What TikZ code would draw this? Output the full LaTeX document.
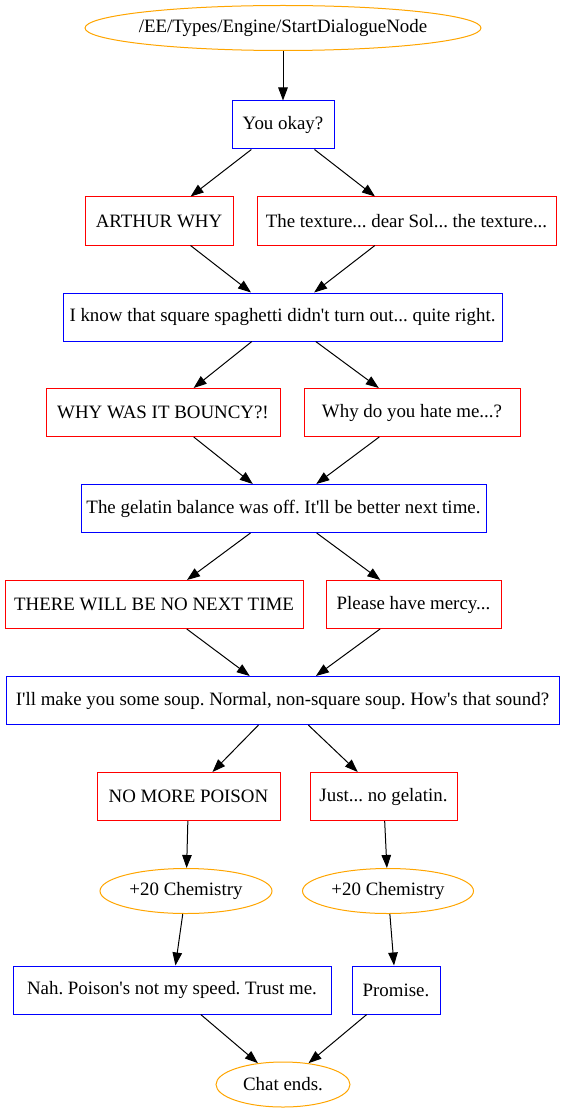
\documentclass[tikz,border=0pt]{standalone}
\usepackage{fontspec}
\setmainfont{Liberation Serif}
\usetikzlibrary{shapes.geometric,arrows.meta}
\definecolor{gvblue}{RGB}{0,0,255}
\definecolor{gvred}{RGB}{255,0,0}
\definecolor{gvorange}{RGB}{255,165,0}
\newcommand{\ap}{\textquotesingle}
\frenchspacing
\tikzset{
  base/.style={font=\fontsize{18.9}{22}\selectfont, inner sep=0pt, line width=1pt, text=black},
  npc/.style={base, rectangle, draw=gvblue, minimum height=48pt},
  player/.style={base, rectangle, draw=gvred, minimum height=48pt},
  event/.style={base, ellipse, draw=gvorange, minimum height=45pt},
  edge/.style={draw=black, line width=1pt, -{Triangle[length=13pt,width=9.5pt]}}
}
\begin{document}
\begin{tikzpicture}[x=1pt,y=-1pt]
\useasboundingbox (0,0) rectangle (565,1115);
\node[event, minimum width=396pt, inner xsep=-6pt] (start) at (283,28) {/EE/Types/Engine/StartDialogueNode};
\node[npc, minimum width=102pt] (okay) at (283,125) {You okay?};
\node[player, minimum width=148pt] (arthur) at (159,221) {ARTHUR WHY};
\node[player, minimum width=299pt] (texture) at (406.5,221) {The texture... dear Sol... the texture...};
\node[npc, minimum width=439pt] (know) at (282.5,317) {I know that square spaghetti didn\ap t turn out... quite right.};
\node[player, minimum width=234pt] (bouncy) at (163,412.5) {WHY WAS IT BOUNCY?!};
\node[player, minimum width=216pt] (hate) at (412,412.5) {Why do you hate me...?};
\node[npc, minimum width=405pt] (gelatin) at (283.5,508.5) {The gelatin balance was off. It\ap ll be better next time.};
\node[player, minimum width=298pt] (nonext) at (154,604.5) {THERE WILL BE NO NEXT TIME};
\node[player, minimum width=175pt] (mercy) at (413.5,604.5) {Please have mercy...};
\node[npc, minimum width=553pt] (soup) at (282.5,700.5) {I\ap ll make you some soup. Normal, non-square soup. How\ap s that sound?};
\node[player, minimum width=183pt] (poison) at (188.5,796.5) {NO MORE POISON};
\node[player, minimum width=147pt] (nogel) at (383.5,796.5) {Just... no gelatin.};
\node[event, minimum width=172pt] (chemA) at (186,891) {+20 Chemistry};
\node[event, minimum width=171pt] (chemB) at (388,891) {+20 Chemistry};
\node[npc, minimum width=318pt] (nah) at (172,990) {Nah. Poison\ap s not my speed. Trust me.};
\node[npc, minimum width=88pt] (promise) at (396,990) {Promise.};
\node[event, minimum width=134pt] (ends) at (283,1084.5) {Chat ends.};
\draw[edge] (start) -- (okay);
\draw[edge] (okay) -- (arthur);
\draw[edge] (okay) -- (texture);
\draw[edge] (arthur) -- (know);
\draw[edge] (texture) -- (know);
\draw[edge] (know) -- (bouncy);
\draw[edge] (know) -- (hate);
\draw[edge] (bouncy) -- (gelatin);
\draw[edge] (hate) -- (gelatin);
\draw[edge] (gelatin) -- (nonext);
\draw[edge] (gelatin) -- (mercy);
\draw[edge] (nonext) -- (soup);
\draw[edge] (mercy) -- (soup);
\draw[edge] (soup) -- (poison);
\draw[edge] (soup) -- (nogel);
\draw[edge] (poison) -- (chemA);
\draw[edge] (nogel) -- (chemB);
\draw[edge] (chemA) -- (nah);
\draw[edge] (chemB) -- (promise);
\draw[edge] (nah) -- (ends);
\draw[edge] (promise) -- (ends);
\end{tikzpicture}
\end{document}
